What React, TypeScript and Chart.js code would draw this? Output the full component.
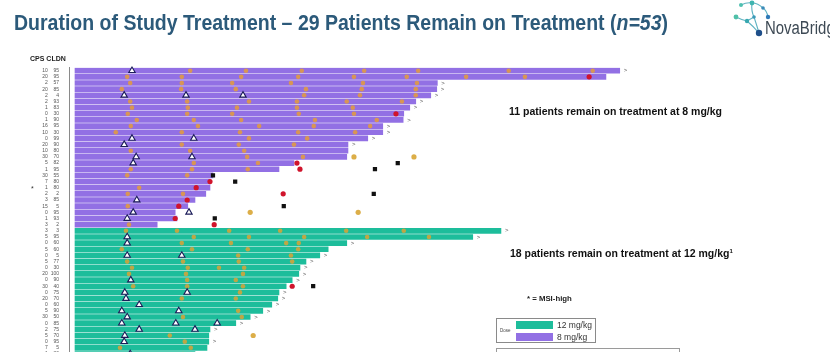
import React, { useEffect, useRef } from 'react';
import { Chart, registerables } from 'chart.js';

Chart.register(...registerables);

// ---------- DATA ----------
// Row order top → bottom (patients). Rows 1-26: 8 mg/kg, rows 27-53: 12 mg/kg
const cps = [10, 20, 2, 20, 2, 2, 1, 0, 1, 16, 10, 0, 20, 10, 30, 5, 1, 30, 7, 1, 2, 3, 15, 0, 1, 3,
  3, 5, 0, 5, 0, 5, 0, 20, 0, 30, 0, 20, 0, 5, 30, 0, 2, 5, 0, 7, 1, 10, 0, 3, 20, 5, 0];
const cldn = [95, 95, 57, 85, 4, 93, 83, 30, 90, 95, 30, 99, 90, 80, 70, 82, 95, 55, 80, 80, 2, 85, 5, 95, 93, 2,
  3, 95, 60, 60, 5, 77, 30, 100, 90, 40, 75, 70, 60, 90, 50, 85, 75, 70, 95, 5, 80, 60, 90, 45, 70, 85, 10];
const doseMgKg = [8, 8, 8, 8, 8, 8, 8, 8, 8, 8, 8, 8, 8, 8, 8, 8, 8, 8, 8, 8, 8, 8, 8, 8, 8, 8,
  12, 12, 12, 12, 12, 12, 12, 12, 12, 12, 12, 12, 12, 12, 12, 12, 12, 12, 12, 12, 12, 12, 12, 12, 12, 12, 12];
// treatment duration (weeks)
const durationWeeks = [90.8, 88.5, 60.4, 60.3, 59.3, 56.8, 55.8, 54.8, 54.7, 51.3, 51.3, 48.8, 45.5, 45.5, 45.3,
  36.5, 34, 23, 22.5, 22.5, 21.8, 20, 18.8, 16.7, 17, 13.7,
  71, 66.3, 45.3, 42.2, 40.8, 38.5, 37.5, 37.3, 36.2, 35.2, 34, 33.8, 32.8, 31.3, 29.2, 26.8, 22.5, 22.3, 22.3, 22,
  20, 18.5, 16, 13, 10, 7, 4];
const ongoingRows = [1, 3, 4, 5, 6, 7, 9, 10, 11, 12, 13,
  27, 28, 29, 31, 32, 33, 34, 35, 37, 38, 39, 40, 41, 42, 43, 45, 47, 48];
const msiHighRows = [20];

// markers: [row, week]
const scanPoints: [number, number][] = [
  [1, 19.2], [1, 28.5], [1, 37.8], [1, 48.2], [1, 57.2], [1, 72.3], [1, 86.3],
  [2, 8.7], [2, 17.8], [2, 27.7], [2, 37.2], [2, 46.5], [2, 55.3], [2, 65.2], [2, 75],
  [3, 9.2], [3, 17.8], [3, 26.2], [3, 36], [3, 48], [3, 57],
  [4, 7.8], [4, 17.7], [4, 26.8], [4, 38.5], [4, 47.8], [4, 56.8],
  [5, 38.2], [5, 47.5], [5, 56.8],
  [6, 9.2], [6, 18.7], [6, 29], [6, 37], [6, 45.3], [6, 54.5],
  [7, 9.5], [7, 18.8], [7, 27], [7, 37], [7, 46.3],
  [8, 8.8], [8, 18.7], [8, 26.2], [8, 37.3], [8, 46.5],
  [9, 10.3], [9, 19.8], [9, 27.7], [9, 40], [9, 50.3],
  [10, 9.3], [10, 20.5], [10, 30.7], [10, 39.8], [10, 49.2],
  [11, 6.8], [11, 17.8], [11, 27.5], [11, 37.2], [11, 46.7],
  [12, 29], [12, 38.7],
  [13, 17.8], [13, 27.3], [13, 36.5],
  [14, 9.3], [14, 19.2], [14, 28.2],
  [15, 28.7], [15, 38],
  [16, 19.8], [16, 30.5],
  [17, 9.3], [17, 19.5], [17, 28.8],
  [18, 8.7], [18, 18.7],
  [20, 10.7],
  [21, 8.8], [21, 18],
  [23, 8.8],
  [26, 9],
  [27, 8.5], [27, 17], [27, 25.7], [27, 34.2], [27, 45.2], [27, 54.8],
  [28, 19.8], [28, 29], [28, 38.2], [28, 48.7], [28, 59],
  [29, 17.8], [29, 26], [29, 35.2], [29, 37.3],
  [30, 7.8], [30, 19.5], [30, 28.8], [30, 37.2],
  [31, 27.2], [31, 36],
  [32, 8.7], [32, 18], [32, 27.3], [32, 36.2],
  [33, 9.5], [33, 18.8], [33, 24], [33, 28.2],
  [34, 9], [34, 18.5], [34, 28],
  [35, 18.7], [35, 26.8],
  [36, 9.7], [36, 18.7], [36, 28],
  [37, 27.5],
  [38, 17.8], [38, 26.8],
  [40, 27.2],
  [41, 18], [41, 27.8],
  [44, 15.8],
  [45, 18.3],
  [46, 7.5], [46, 19.3],
  [47, 18], [48, 8.5], [48, 17.5], [49, 9], [51, 8],
];
const responsePoints: [number, number][] = [
  [1, 9.5], [5, 8.2], [5, 18.5], [5, 28], [12, 9.5], [12, 19.8], [13, 8.2], [15, 10.2], [15, 19.5], [16, 9.7],
  [22, 10.3], [24, 9.7], [24, 19], [25, 8.7],
  [28, 8.7], [29, 8.7], [31, 8.7], [31, 17.8], [35, 9.3], [37, 8.3], [37, 18.7], [38, 8.5], [39, 10.7],
  [40, 7.8], [40, 17.3], [41, 8.7], [42, 7.8], [42, 16.8], [42, 23.7], [43, 10.7], [43, 20], [44, 8.3], [45, 8.2],
  [47, 9.2], [50, 8.8],
];
const progressionPoints: [number, number][] = [
  [2, 85.7], [8, 53.5], [16, 37], [17, 37.5], [19, 22.5], [20, 20.2], [21, 34.7], [22, 18.7], [23, 17.3],
  [25, 16.7], [26, 23.2], [36, 36.2], [52, 8],
];
const deathPoints: [number, number][] = [
  [16, 53.8], [17, 50], [18, 23], [19, 26.7], [21, 49.8], [23, 34.8], [25, 23.3], [36, 39.7], [53, 6],
];
const offTreatmentScans: [number, number][] = [
  [15, 46.5], [15, 56.5], [24, 29.2], [24, 47.2], [44, 29.7],
];

// ---------- STYLE ----------
const PURPLE = '#9270e4';
const TEAL = '#1dbd9b';
const FONT = '"Liberation Sans", Arial, sans-serif';

const rowKey = (r: number) => `R${r}`;
const rowLabels = cps.map((_, i) => rowKey(i + 1));
const toXY = (pts: [number, number][]) => pts.map(([r, w]) => ({ x: w, y: rowKey(r) }));
const pad = (v: number, n: number) => String(v).padStart(n, '\u2007');

const rowMarksPlugin = {
  id: 'rowMarks',
  afterDatasetsDraw(chart: any) {
    const { ctx, scales } = chart;
    const x = scales.x;
    const y = scales.y;
    ctx.save();
    ctx.fillStyle = '#555';
    ctx.textBaseline = 'middle';
    ctx.textAlign = 'left';
    ctx.font = `6px ${FONT}`;
    ongoingRows.forEach((r) => {
      const i = r - 1;
      ctx.fillText('>', x.getPixelForValue(durationWeeks[i]) + 4, y.getPixelForValue(i));
    });
    ctx.fillStyle = '#333';
    ctx.font = `7px ${FONT}`;
    msiHighRows.forEach((r) => {
      ctx.fillText('*', 31, y.getPixelForValue(r - 1) + 1.5);
    });
    ctx.restore();
  },
};

export default function App() {
  const canvasRef = useRef<HTMLCanvasElement>(null);

  useEffect(() => {
    const canvas = canvasRef.current;
    if (!canvas) return;
    const chart = new Chart(canvas, {
      type: 'bar',
      data: {
        labels: rowLabels,
        datasets: [
          {
            type: 'bar',
            indexAxis: 'y',
            data: durationWeeks.map((d) => [0, d]),
            backgroundColor: doseMgKg.map((d) => (d === 12 ? TEAL : PURPLE)),
            borderWidth: 0,
            barThickness: 5,
            order: 10,
          } as any,
          {
            type: 'scatter',
            data: toXY(scanPoints),
            pointStyle: 'circle',
            pointRadius: 2.3,
            backgroundColor: 'rgba(236,160,45,0.78)',
            borderWidth: 0,
            order: 5,
          } as any,
          {
            type: 'scatter',
            data: toXY(offTreatmentScans),
            pointStyle: 'circle',
            pointRadius: 2.6,
            backgroundColor: '#dcae48',
            borderWidth: 0,
            order: 4,
          } as any,
          {
            type: 'scatter',
            data: toXY(responsePoints),
            pointStyle: 'triangle',
            pointRadius: 3.7,
            backgroundColor: '#ffffff',
            borderColor: '#1c1d5a',
            borderWidth: 1.1,
            order: 3,
          } as any,
          {
            type: 'scatter',
            data: toXY(progressionPoints),
            pointStyle: 'circle',
            pointRadius: 2.6,
            backgroundColor: '#d0142c',
            borderWidth: 0,
            order: 2,
          } as any,
          {
            type: 'scatter',
            data: toXY(deathPoints),
            pointStyle: 'rect',
            pointRadius: 3,
            backgroundColor: '#111111',
            borderWidth: 0,
            order: 1,
          } as any,
        ],
      },
      options: {
        indexAxis: 'y',
        responsive: false,
        animation: false,
        devicePixelRatio: 1,
        layout: { padding: { top: 67.6, bottom: 6, left: 0, right: 5 } },
        plugins: {
          legend: { display: false },
          tooltip: { enabled: false },
        },
        scales: {
          x: { type: 'linear', min: -1, max: 125, display: false },
          y: {
            type: 'category',
            offset: true,
            grid: { display: false, drawTicks: false },
            border: { display: true, color: '#8a8a8a', width: 1 },
            ticks: {
              autoSkip: false,
              padding: 10,
              color: '#555',
              font: { size: 5, family: FONT },
              callback: (_v: any, i: number) => `${pad(cps[i], 2)}  ${pad(cldn[i], 3)}`,
            },
            afterFit: (s: any) => {
              s.width = 69;
            },
          },
        },
      } as any,
      plugins: [rowMarksPlugin],
    });
    return () => chart.destroy();
  }, []);

  const abs = (extra: React.CSSProperties): React.CSSProperties => ({
    position: 'absolute',
    whiteSpace: 'nowrap',
    fontFamily: FONT,
    ...extra,
  });

  return (
    <div
      style={{
        position: 'fixed',
        left: 0,
        top: 0,
        width: 830,
        height: 352,
        overflow: 'hidden',
        background: '#ffffff',
      }}
    >
      <canvas ref={canvasRef} width={830} height={407} style={{ position: 'absolute', left: 0, top: 0 }} />

      <svg width={830} height={50} style={{ position: 'absolute', left: 0, top: 0 }}>
        <text
          x={14}
          y={30}
          fontSize={22}
          fontWeight={700}
          fill="#2c5a7a"
          fontFamily={FONT}
          textLength={654}
          lengthAdjust="spacingAndGlyphs"
        >
          Duration of Study Treatment – 29 Patients Remain on Treatment (<tspan fontStyle="italic">n=53</tspan>)
        </text>
        <g stroke="#5fb3c2" strokeWidth={1.1} fill="none">
          <path d="M736 17 Q742 20 747 21 Q753 26 759 33" />
          <path d="M752 3 Q751 11 754 17 Q757 26 759 33" />
          <path d="M752 3 Q758 3 763 8 Q767 11 768 17" />
          <path d="M741 5 Q747 2 752 3" />
          <path d="M747 21 L754 17" />
        </g>
        <circle cx={741} cy={5} r={2} fill="#4fc0b0" />
        <circle cx={752} cy={3} r={2.4} fill="#3fb5b0" />
        <circle cx={736} cy={17} r={2.4} fill="#4fc0a8" />
        <circle cx={747} cy={21} r={2.2} fill="#38a8b0" />
        <circle cx={754} cy={17} r={1.8} fill="#3a9ab8" />
        <circle cx={763} cy={8} r={1.8} fill="#3a8ab8" />
        <circle cx={768} cy={17} r={2.2} fill="#2f7ab8" />
        <circle cx={759} cy={33} r={3.2} fill="#1f4f8a" />
        <text
          x={765}
          y={34}
          fontSize={18}
          fill="#3d4954"
          fontFamily={FONT}
          textLength={78}
          lengthAdjust="spacingAndGlyphs"
        >
          NovaBridge
        </text>
      </svg>

      <div style={abs({ left: 30, top: 55, fontSize: 7, fontWeight: 700, lineHeight: '8px', color: '#222' })}>
        CPS CLDN
      </div>

      <div style={abs({ left: 509, top: 105, fontSize: 10.5, fontWeight: 700, lineHeight: '12px', color: '#111' })}>
        11 patients remain on treatment at 8 mg/kg
      </div>
      <div style={abs({ left: 510, top: 247, fontSize: 10.5, fontWeight: 700, lineHeight: '12px', color: '#111' })}>
        18 patients remain on treatment at 12 mg/kg
        <span style={{ fontSize: 6, position: 'relative', top: -4 }}>1</span>
      </div>

      <div style={abs({ left: 527, top: 295, fontSize: 7.8, fontWeight: 700, lineHeight: '8px', color: '#222' })}>
        * = MSI-high
      </div>

      <div
        style={{
          position: 'absolute',
          left: 496,
          top: 318,
          width: 100,
          height: 25,
          border: '1px solid #8a8a8a',
          boxSizing: 'border-box',
          background: '#fff',
        }}
      >
        <div style={abs({ left: 3, top: 9, fontSize: 4.5, lineHeight: '5px', color: '#444' })}>Dose</div>
        <div style={{ position: 'absolute', left: 19, top: 2, width: 37, height: 8, background: TEAL }} />
        <div style={{ position: 'absolute', left: 19, top: 14, width: 37, height: 8, background: PURPLE }} />
        <div style={abs({ left: 60, top: 1, fontSize: 8.5, lineHeight: '10px', color: '#333' })}>12 mg/kg</div>
        <div style={abs({ left: 60, top: 13, fontSize: 8.5, lineHeight: '10px', color: '#333' })}>8 mg/kg</div>
      </div>
      <div
        style={{
          position: 'absolute',
          left: 496,
          top: 348,
          width: 184,
          height: 20,
          border: '1px solid #9a9a9a',
          boxSizing: 'border-box',
          background: '#fff',
        }}
      />
    </div>
  );
}
